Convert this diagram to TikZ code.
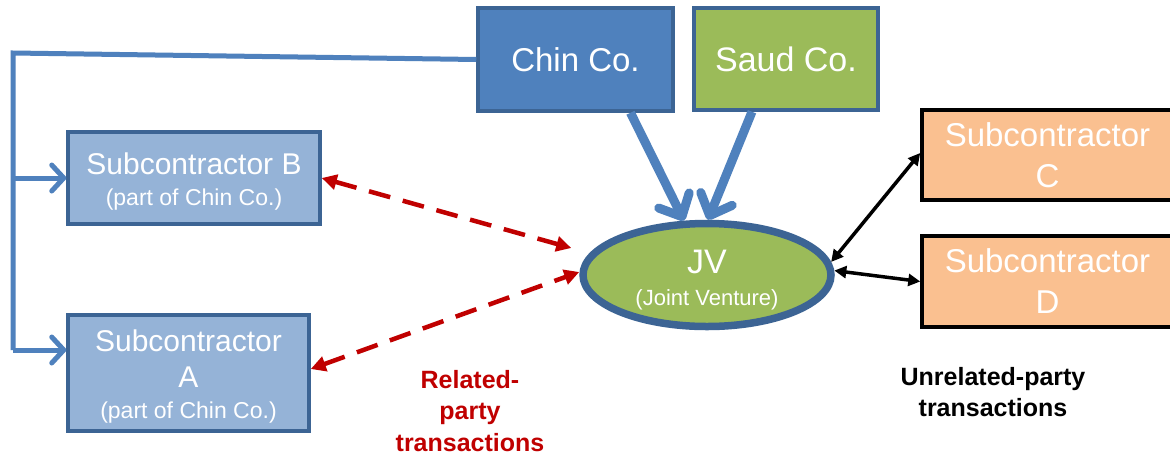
\documentclass[tikz,border=0pt]{standalone}
\usepackage{fontspec}
\setmainfont{Liberation Sans}
\usetikzlibrary{arrows.meta,shapes.geometric,calc}
\definecolor{chinblue}{HTML}{4F81BD}
\definecolor{darkblue}{HTML}{3C6494}
\definecolor{olivegreen}{HTML}{9BBB59}
\definecolor{lightblue}{HTML}{95B3D7}
\definecolor{peach}{HTML}{FAC090}
\definecolor{relred}{HTML}{C00000}
\begin{document}
\begin{tikzpicture}[x=1pt,y=-1pt,
  box/.style={rectangle, draw=darkblue, line width=3.5pt, text=white, align=center, inner sep=0pt},
  subbox/.style={box, fill=lightblue},
  extbox/.style={box, draw=black, fill=peach, font=\fontsize{33}{41}\selectfont},
  trunk/.style={draw=chinblue, line width=5pt},
  trunkarrow/.style={trunk, -{Straight Barb[length=12pt,width=26pt,round]}},
  bigarrow/.style={draw=chinblue, line width=9pt, -{Straight Barb[length=18pt,width=34pt,round]}},
  relarrow/.style={draw=relred, line width=4.5pt, dash pattern=on 22pt off 13pt, {Triangle[length=15pt,width=15pt]}-{Triangle[length=15pt,width=15pt]}},
  unrelarrow/.style={draw=black, line width=3.5pt, {Triangle[length=12pt,width=12pt]}-{Triangle[length=12pt,width=12pt]}},
  caption/.style={align=center, font=\fontsize{25}{31.5}\selectfont\bfseries}
]
\useasboundingbox[fill=white] (0,0) rectangle (1170,456);

\node[box, fill=chinblue, minimum width=195pt, minimum height=103pt, font=\fontsize{33}{38}\selectfont] (chin) at (575.5,59.5) {Chin Co.};
\node[box, fill=olivegreen, minimum width=184pt, minimum height=102pt, font=\fontsize{34}{38}\selectfont] (saud) at (786,59) {Saud Co.};

\node[subbox, minimum width=252pt, minimum height=92pt, font=\fontsize{30}{34}\selectfont] (subB) at (194,178)
  {\rule{0pt}{29pt}Subcontractor B\\[-3pt]{\fontsize{23}{27}\selectfont (part of Chin Co.)}};
\node[subbox, minimum width=241pt, minimum height=116pt, font=\fontsize{30}{36}\selectfont] (subA) at (188.5,373)
  {\rule{0pt}{28pt}Subcontractor\\A\\[-5pt]{\fontsize{23}{27}\selectfont (part of Chin Co.)}};

\node[ellipse, draw=darkblue, fill=olivegreen, line width=7.5pt, minimum width=248pt, minimum height=103pt, inner sep=0pt,
  text=white, align=center, font=\fontsize{34}{36}\selectfont] (jv) at (707,275)
  {\rule{0pt}{33pt}JV\\[-4pt]{\fontsize{22}{26}\selectfont (Joint Venture)}};

\node[extbox, minimum width=251pt, minimum height=90pt] (subC) at (1047.5,155) {Subcontractor\\C};
\node[extbox, minimum width=251pt, minimum height=91pt] (subD) at (1047.5,281.5) {Subcontractor\\D};

% trunk from Chin Co.
\coordinate (tl) at (13,53);
\coordinate (bl) at (13,350);
\draw[trunk] (chin.west) -- (tl) -- (bl);
\draw[trunkarrow] (bl) -- (bl -| subA.west);
\draw[trunkarrow] (tl |- subB.west) -- (subB.west);

% owners to JV
\draw[bigarrow] ([xshift=55pt]chin.south) -- (jv.113);
\draw[bigarrow] ([xshift=-34pt]saud.south) -- (jv.89);

% related-party
\draw[relarrow] (subB.east) -- ([shift={(-8pt,27pt)}]jv.west);
\draw[relarrow] ([yshift=4pt]subA.east) -- ([yshift=3pt]jv.west);

% unrelated-party
\draw[unrelarrow] (jv.6) -- ([yshift=2pt]subC.west);
\draw[unrelarrow] (jv.2) -- (subD.west);

\node[caption, text=relred] (rel) at (470,411) {Related-\\party\\transactions};
\node[caption, text=black] (unrel) at (993,392) {Unrelated-party\\transactions};
\end{tikzpicture}
\end{document}
